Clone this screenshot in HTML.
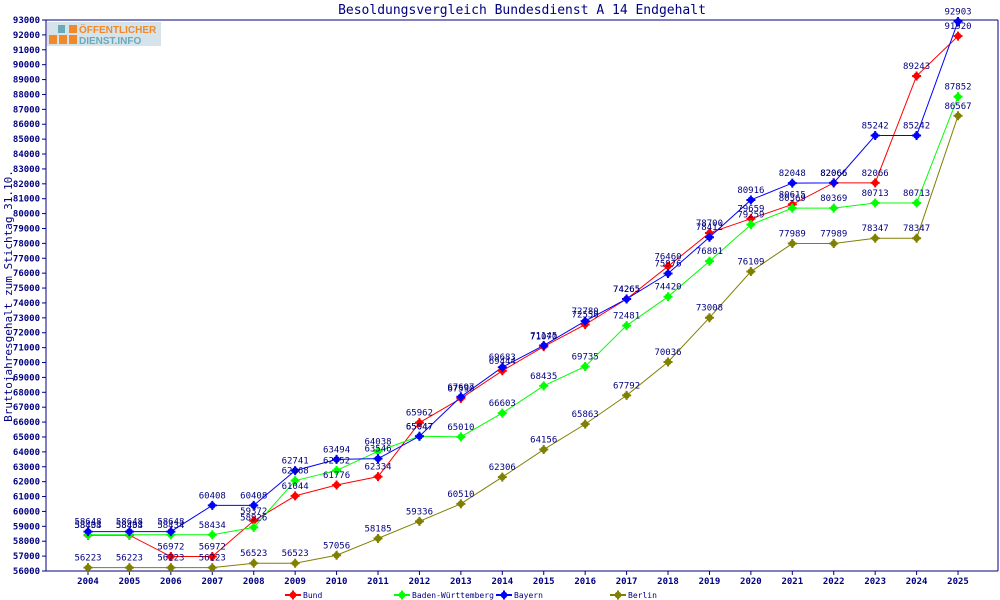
<!DOCTYPE html>
<html><head><meta charset="utf-8"><style>
body{margin:0;background:#fff}
svg{display:block}
text{font-family:"DejaVu Sans Mono","Liberation Mono",monospace;fill:#000080}
</style></head><body>
<svg id="s" width="1000" height="600" xmlns="http://www.w3.org/2000/svg">
<rect width="1000" height="600" fill="#fff"/>
<text x="522" y="14" font-size="13" text-anchor="middle">Besoldungsvergleich Bundesdienst A 14 Endgehalt</text>
<text transform="translate(12,296) rotate(-90)" font-size="11" text-anchor="middle">Bruttojahresgehalt zum Stichtag 31.10.</text>
<g id="logo">
<rect x="47" y="22" width="114" height="24" fill="#d6e3ea"/>
<rect x="49" y="35" width="8" height="9" fill="#f0892a"/><rect x="59" y="35" width="8" height="9" fill="#f0892a"/><rect x="69" y="35" width="8" height="9" fill="#f0892a"/>
<rect x="69" y="25" width="8" height="8" fill="#f0892a"/><rect x="58" y="25" width="7" height="8" fill="#6aa9b8"/>
<text x="79" y="33" font-size="10" font-weight="bold" style="fill:#f0892a;font-family:'Liberation Sans',sans-serif">ÖFFENTLICHER</text>
<text x="79" y="44" font-size="10" font-weight="bold" style="fill:#6aa9b8;font-family:'Liberation Sans',sans-serif">DIENST.INFO</text>
</g>
</svg>
<script>
const s=document.getElementById('s'),NS='http://www.w3.org/2000/svg';
function el(t,a,txt){const e=document.createElementNS(NS,t);for(const k in a)e.setAttribute(k,a[k]);if(txt!=null)e.textContent=txt;s.appendChild(e);return e;}
const Y=v=>571-(v-56000)*551/37000, X=i=>88+i*41.43;
el('line',{x1:46,y1:20,x2:998,y2:20,stroke:'#000080'});
el('line',{x1:46,y1:20,x2:46,y2:571,stroke:'#000080'});
el('line',{x1:46,y1:571,x2:998,y2:571,stroke:'#000080'});
el('line',{x1:998,y1:20,x2:998,y2:571,stroke:'#000080'});
for(let v=56000;v<=93000;v+=1000){const y=Y(v);el('line',{x1:42,y1:y,x2:46,y2:y,stroke:'#000080'});el('text',{x:40,y:y+3,'font-size':9,'font-weight':'bold','text-anchor':'end'},v);}
for(let i=0;i<22;i++){const x=X(i);el('line',{x1:x,y1:571,x2:x,y2:575,stroke:'#000080'});el('text',{x:x,y:584,'font-size':9,'font-weight':'bold','text-anchor':'middle'},2004+i);}
const S=[
['#ff0000',[58403,58403,56972,56972,59372,61044,61776,62334,65962,67590,69444,71070,72550,74265,76460,78700,79659,80615,82066,82066,89243,91920]],
['#00ff00',[58434,58434,58434,58434,58926,62068,62752,64038,65047,65010,66603,68435,69735,72481,74420,76801,79259,80369,80369,80713,80713,87852]],
['#0000ff',[58648,58648,58648,60408,60408,62741,63494,63546,65047,67697,69683,71145,72780,74265,75976,78412,80916,82048,82066,85242,85242,92903]],
['#808000',[56223,56223,56223,56223,56523,56523,57056,58185,59336,60510,62306,64156,65863,67792,70036,73008,76109,77989,77989,78347,78347,86567]]];
function mark(x,y,c){el('circle',{cx:x,cy:y,r:3.3,fill:c});el('path',{d:`M${x-4.5} ${y}H${x+4.5}M${x} ${y-4.5}V${y+4.5}`,stroke:c,'stroke-width':2});}
S.forEach(([c,d])=>{el('polyline',{points:d.map((v,i)=>X(i)+','+Y(v)).join(' '),fill:'none',stroke:c,'stroke-width':1});});
S.forEach(([c,d])=>{d.forEach((v,i)=>{mark(X(i),Y(v),c);});});
S.forEach(([c,d])=>{d.forEach((v,i)=>{el('text',{x:X(i),y:Y(v)-7,'font-size':9,'text-anchor':'middle'},v);});});
const L=[['Bund',293],['Baden-Württemberg',402],['Bayern',504],['Berlin',618]];
L.forEach(([n,x],k)=>{const c=S[k][0];el('line',{x1:x-8,y1:595,x2:x+8,y2:595,stroke:c,'stroke-width':2});mark(x,595,c);el('text',{x:x+10,y:598,'font-size':8},n);});
</script>
</body></html>
